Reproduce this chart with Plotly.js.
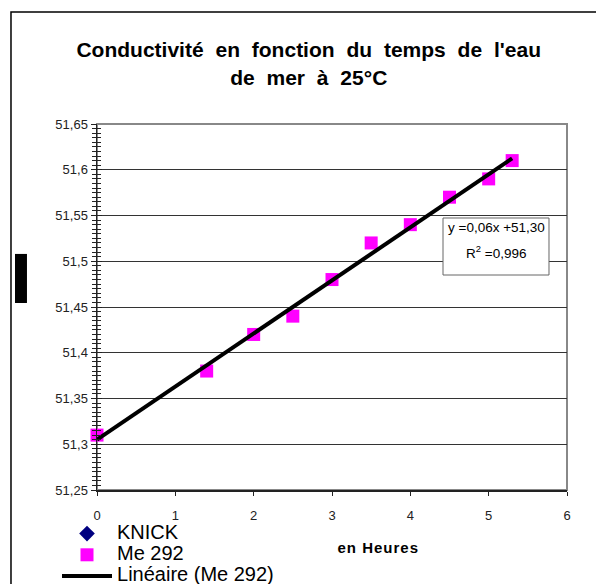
<!DOCTYPE html>
<html>
<head>
<meta charset="utf-8">
<script src="https://cdn.plot.ly/plotly-3.0.1.min.js"></script>
<style>
html, body { margin: 0; padding: 0; background: #fff; }
#chart { width: 596px; height: 584px; }
.legend .traces text { font-size: 20px !important; }
.legend .scrollbox { clip-path: none !important; }
.gtitle { word-spacing: 6px; }
.annotation[data-index="2"] text { letter-spacing: 1px; }
</style>
</head>
<body>
<div id="chart"></div>
<script>
// Data
const seriesNames = ["KNICK", "Me 292", "Linéaire (Me 292)"];
const knickHours = [null];
const knickCond = [null];
const me292Hours = [0, 1.4, 2, 2.5, 3, 3.5, 4, 4.5, 5, 5.3];
const me292Cond = [51.31, 51.38, 51.42, 51.44, 51.48, 51.52, 51.54, 51.57, 51.59, 51.61];
const equationLines = ["y =0,06x +51,30", "R<sup>2</sup> =0,996"];
const titleText = "Conductivité en fonction du temps de l'eau<br>de mer à 25°C";
const xTitleText = "en Heures";

// Linear regression (trend line) computed from the Me 292 series
const n = me292Hours.length;
const mx = me292Hours.reduce((a, b) => a + b, 0) / n;
const my = me292Cond.reduce((a, b) => a + b, 0) / n;
let sxy = 0, sxx = 0;
for (let i = 0; i < n; i++) {
  sxy += (me292Hours[i] - mx) * (me292Cond[i] - my);
  sxx += (me292Hours[i] - mx) * (me292Hours[i] - mx);
}
const slope = sxy / sxx;
const intercept = my - slope * mx;
const xMin = Math.min(...me292Hours), xMax = Math.max(...me292Hours);
const trendX = [xMin, xMax];
const trendY = trendX.map(x => intercept + slope * x);

const FONT = "Liberation Sans, Arial, sans-serif";

const traces = [
  {
    type: "scatter", mode: "markers", name: seriesNames[0],
    x: knickHours, y: knickCond,
    marker: { symbol: "diamond", size: 12, color: "#000080" }
  },
  {
    type: "scatter", mode: "markers", name: seriesNames[1],
    x: me292Hours, y: me292Cond, cliponaxis: false,
    marker: { symbol: "square", size: 13, color: "#ff00ff" }
  },
  {
    type: "scatter", mode: "lines", name: seriesNames[2],
    x: trendX, y: trendY, cliponaxis: false,
    line: { color: "#000000", width: 4 }
  },
  {
    type: "scatter", mode: "markers", x: [null], y: [null], yaxis: "y2",
    showlegend: false, hoverinfo: "skip"
  }
];

const tickFont = { family: FONT, size: 13, color: "#222" };

const layout = {
  width: 596, height: 584,
  paper_bgcolor: "#fff", plot_bgcolor: "#fff",
  separators: ", ",
  margin: { l: 97, r: 29, t: 124, b: 94, autoexpand: false },
  font: { family: FONT, color: "#000" },
  title: {
    text: titleText,
    font: { family: FONT, size: 21, weight: "bold", color: "#000" },
    xref: "container", x: 0.518, xanchor: "center",
    yref: "container", y: 0.9016, yanchor: "middle"
  },
  showlegend: true,
  legend: {
    x: -0.0851, xanchor: "left", y: -0.0765, yanchor: "top",
    bgcolor: "rgba(0,0,0,0)", borderwidth: 0,
    font: { family: FONT, size: 14, color: "#000" },
    itemwidth: 50, tracegroupgap: 0
  },
  xaxis: {
    range: [0, 6], dtick: 1, tick0: 0,
    showgrid: false, zeroline: false,
    showline: true, linecolor: "#222", linewidth: 2,
    ticks: "outside", ticklen: 4, tickcolor: "#222", tickwidth: 1,
    ticklabelstandoff: 8,
    tickfont: tickFont, fixedrange: true
  },
  yaxis: {
    range: [51.25, 51.65], dtick: 0.05, tick0: 51.25,
    showgrid: true, gridcolor: "#333", gridwidth: 1,
    zeroline: false,
    showline: true, linecolor: "#222", linewidth: 1.5,
    ticks: "outside", ticklen: 5, tickcolor: "#222", tickwidth: 1,
    minor: { dtick: 0.005, ticks: "outside", ticklen: 4, tickcolor: "#222", tickwidth: 1, showgrid: false },
    tickfont: tickFont, fixedrange: true
  },
  yaxis2: {
    overlaying: "y", matches: "y", side: "left",
    range: [51.25, 51.65], dtick: 0.05, tick0: 51.25,
    showgrid: false, zeroline: false, showline: false, showticklabels: false,
    ticks: "inside", ticklen: 5, tickcolor: "#222", tickwidth: 1,
    minor: { dtick: 0.005, ticks: "inside", ticklen: 4, tickcolor: "#222", tickwidth: 1, showgrid: false },
    fixedrange: true
  },
  shapes: [
    { type: "rect", xref: "paper", yref: "paper", x0: 0, x1: 1, y0: 0, y1: 1,
      line: { color: "#888", width: 2 }, layer: "below" },
    { type: "rect", xref: "paper", yref: "paper", x0: -0.183, x1: 1.2, y0: -0.4, y1: 1.306,
      line: { color: "#000", width: 1.5 }, layer: "above" },
    { type: "rect", xref: "paper", yref: "paper", x0: -0.1745, x1: -0.149, y0: 0.511, y1: 0.645,
      fillcolor: "#000", line: { width: 0 }, layer: "above" },
    { type: "rect", xref: "paper", yref: "paper", x0: 0.7362, x1: 0.9617, y0: 0.5874, y1: 0.7432,
      fillcolor: "#fff", line: { color: "#666", width: 1 }, layer: "above" }
  ],
  annotations: [
    { xref: "paper", yref: "paper", x: 0.849, y: 0.716, xanchor: "center", yanchor: "middle",
      text: equationLines[0], showarrow: false,
      font: { family: FONT, size: 13.5, color: "#000" } },
    { xref: "paper", yref: "paper", x: 0.849, y: 0.650, xanchor: "center", yanchor: "middle",
      text: equationLines[1], showarrow: false,
      font: { family: FONT, size: 13.5, color: "#000" } },
    { xref: "paper", yref: "paper", x: 0.598, y: -0.158, xanchor: "center", yanchor: "middle",
      text: "<b>" + xTitleText + "</b>", showarrow: false,
      font: { family: FONT, size: 15, color: "#000" } }
  ]
};

Plotly.newPlot("chart", traces, layout, { displayModeBar: false, staticPlot: true });
</script>
</body>
</html>
